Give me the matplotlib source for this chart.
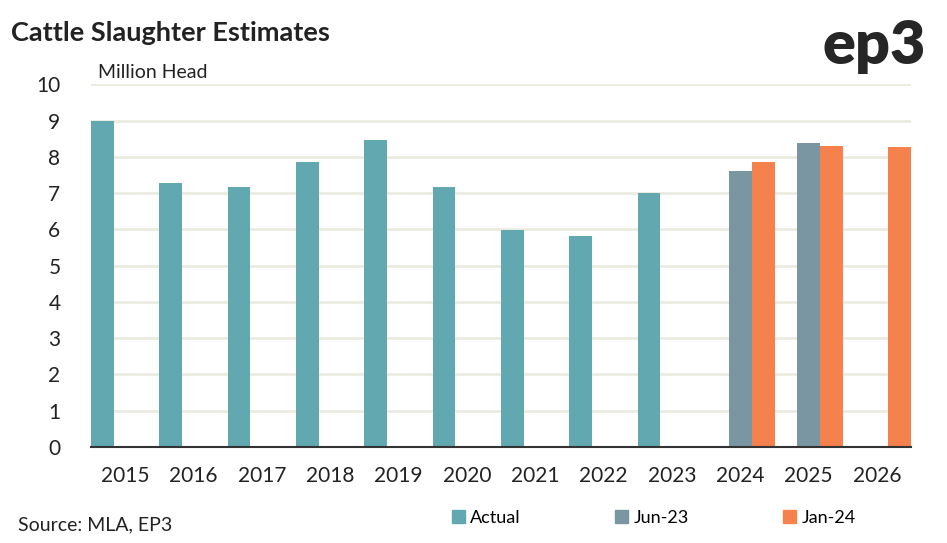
import numpy as np
import matplotlib
matplotlib.use("Agg")
import matplotlib.pyplot as plt
from matplotlib.patches import Patch

plt.rcParams['font.family'] = ['Lato', 'DejaVu Sans']

# datos (millones de cabezas)
anios = ["2015", "2016", "2017", "2018", "2019", "2020", "2021", "2022", "2023", "2024", "2025", "2026"]
actual = [9.0, 7.27, 7.16, 7.86, 8.46, 7.16, 5.99, 5.82, 7.01, np.nan, np.nan, np.nan]
jun23 = [np.nan]*9 + [7.61, 8.38, np.nan]
jan24 = [np.nan]*9 + [7.86, 8.30, 8.27]

c_act = "#62a8b1"
c_jun = "#7a96a2"
c_jan = "#f5814d"

fig = plt.figure(figsize=(9.47, 5.43), dpi=100)
ax = fig.add_axes([0.0961, 0.1768, 0.866, 0.668])

x = np.arange(len(anios))
w = 0.335
ax.bar(x - w, actual, w, color=c_act, zorder=3)
ax.bar(x, jun23, w, color=c_jun, zorder=3)
ax.bar(x + w, jan24, w, color=c_jan, zorder=3)

ax.set_xlim(-0.5, len(anios) - 0.5)
ax.set_ylim(0, 10)
ax.set_yticks(range(0, 11))
ax.set_xticks(x)
ax.set_xticklabels(anios)
ax.tick_params(axis="both", length=0, labelsize=15, colors="#222222")
ax.tick_params(axis="x", pad=14)
ax.tick_params(axis="y", pad=22)
ax.grid(axis="y", color="#ecebe1", linewidth=2, zorder=0)
for s in ["left", "right", "top"]:
    ax.spines[s].set_visible(False)
ax.spines["bottom"].set_color("#333333")
ax.spines["bottom"].set_linewidth(1.5)
ax.spines["bottom"].set_zorder(4)

fig.text(0.012, 0.94, "Cattle Slaughter Estimates", fontsize=19.5, fontweight="bold", color="#222222", va="center")
ax.text(0.008, 1.01, "Million Head", transform=ax.transAxes, fontsize=14, color="#222222", va="bottom")
fig.text(0.978, 0.915, "ep3", fontsize=44, fontweight="heavy", color="#262626", ha="right", va="center")
fig.text(0.019, 0.033, "Source: MLA, EP3", fontsize=14, color="#222222", va="center")

handles = [Patch(color=c_act, label="Actual"), Patch(color=c_jun, label="Jun-23"), Patch(color=c_jan, label="Jan-24")]
fig.legend(handles=handles, loc="center left", bbox_to_anchor=(0.46, 0.046), ncol=3, frameon=False,
           fontsize=13, handlelength=0.7, handleheight=0.7, handletextpad=0.3, columnspacing=5.25)

plt.savefig("out.png", dpi=100)
